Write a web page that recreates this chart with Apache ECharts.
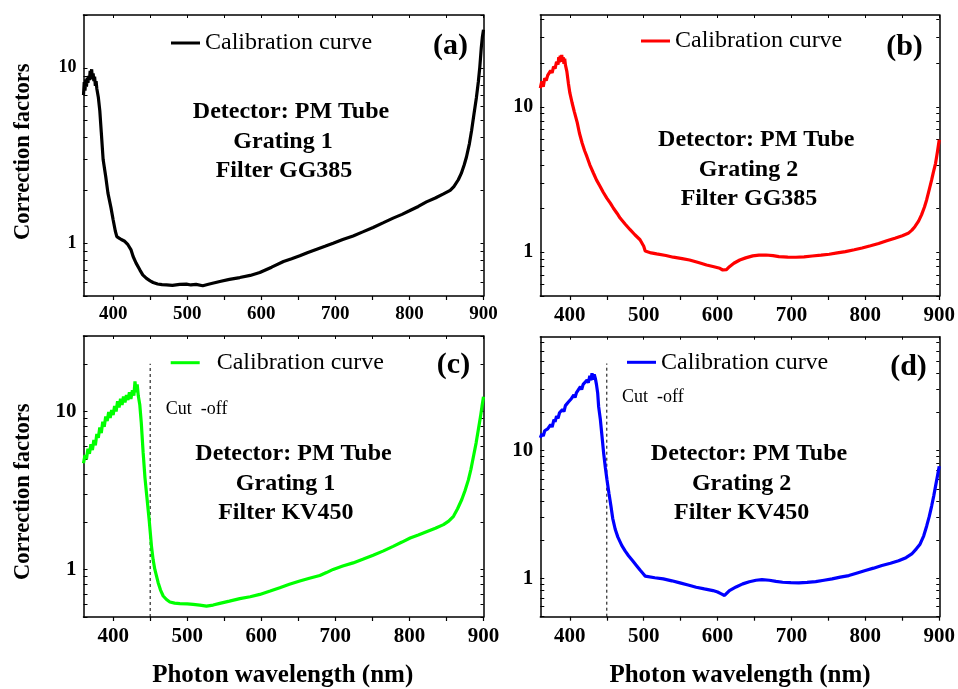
<!DOCTYPE html>
<html>
<head>
<meta charset="utf-8">
<script src="https://cdn.jsdelivr.net/npm/echarts@6/dist/echarts.min.js"></script>
<style>
html,body{margin:0;padding:0;background:#fff;}
#chart{width:958px;height:689px;}
</style>
</head>
<body>
<div id="chart"></div>
<script>
// ---- data ----
const wlA = [360,361,362,363,364,365,366,367,368,369,370,371,372,373,374,375,376,377,378,380,382,384,386.5,390,393,397,400,403,405,408,411,415,420,424,427,431,436,440,445,450,454,460,466,472,480,490,499,505,512,521,530,544,557,571,585,598,614,630,641,652,663,675,686,697,710,724,737,751,765,778,790,800,812,823,835,846,855,860,866,870,874,877,881,884,887,890.5,893,895,897,898.5,900];
const cfA = [7.0,8.3,7.4,8.6,7.8,8.8,8.2,9.0,8.5,9.6,9.2,9.8,8.6,9.3,8.4,8.9,7.9,8.4,7.6,6.8,5.7,4.3,3.0,2.4,1.93,1.6,1.36,1.17,1.09,1.07,1.05,1.03,0.98,0.92,0.84,0.77,0.705,0.66,0.63,0.61,0.597,0.585,0.58,0.579,0.575,0.582,0.584,0.578,0.582,0.572,0.585,0.605,0.622,0.637,0.655,0.68,0.73,0.786,0.815,0.847,0.885,0.924,0.96,1.0,1.05,1.1,1.16,1.23,1.31,1.39,1.46,1.53,1.62,1.72,1.81,1.91,2.0,2.1,2.3,2.5,2.8,3.1,3.7,4.4,5.4,6.8,8.3,10.1,13.0,15.0,16.5];

const wlB = [360,362,364,366,368,370,372,374,376,378,380,382,384,385,386,387,388,389,390,391,392,393,394,396,398,400,403,406,410,413,416.6,420,423,427,432,436,441,445,450,455,459,464,468,475,481.6,488,495,500,502,504,510,517.5,530,540,552,562,574,585,595,603,607,609.5,612,616,622,630,638,647.5,656,665.5,675,683,695,706,717,728,740,751,762,773,785,795.5,807,818,829,840,850,858,863,867,872,876,880,883,886,889.7,892,895,897.5,900];
const cfB = [13.5,15.0,13.8,15.8,15.2,16.5,16.0,17.8,17.2,19.0,18.4,20.5,19.6,22.0,20.3,22.6,21.0,22.8,20.5,22.0,19.8,21.5,19.5,17.5,14.6,12.5,10.7,9.3,7.8,6.6,5.65,5.0,4.57,4.0,3.5,3.15,2.84,2.6,2.36,2.17,2.01,1.85,1.72,1.56,1.43,1.32,1.22,1.1,1.02,1.0,0.99,0.974,0.95,0.925,0.905,0.885,0.85,0.818,0.795,0.776,0.755,0.735,0.76,0.796,0.84,0.885,0.915,0.944,0.955,0.958,0.948,0.933,0.925,0.924,0.93,0.943,0.955,0.969,0.99,1.01,1.04,1.07,1.11,1.15,1.2,1.25,1.3,1.35,1.42,1.5,1.64,1.81,2.05,2.3,2.65,3.15,3.55,4.1,4.9,5.95];

const wlC = [360,362,364,366,368,370,372,374,376,378,380,382,384,386,388,390,392,394,396,398,400,402,404,406,408,410,412,414,416,418,420,422,424,426,428,429.5,431,432.5,434,436,438,440.5,443,445,448.6,451.8,454,456.3,460.8,464,467.6,472,476.6,483,490,500,508,517,526,535,544,557,571,585,598,612,625,638,652,665,679,688,697,710,724,737,751,765,778,790,801,812,823,835,846,853,859.5,865,870.7,875,879.7,883,886.5,890,893,896,898,900];
const cfC = [4.7,5.3,5.0,5.8,5.4,6.2,5.7,6.6,6.1,7.2,6.8,7.9,7.3,8.6,8.0,9.3,8.7,9.9,9.1,10.2,9.5,10.8,10.0,11.6,10.6,12.0,11.0,12.4,11.4,12.7,11.8,13.2,12.0,13.6,12.6,15.5,13.2,14.8,12.5,11.0,8.5,5.5,3.8,3.05,2.07,1.4,1.15,1.0,0.824,0.74,0.679,0.645,0.622,0.612,0.607,0.605,0.601,0.595,0.586,0.595,0.61,0.63,0.653,0.672,0.695,0.73,0.766,0.805,0.844,0.88,0.916,0.955,1.0,1.05,1.1,1.16,1.23,1.31,1.4,1.49,1.58,1.65,1.73,1.82,1.92,2.02,2.17,2.42,2.77,3.15,3.7,4.3,5.2,6.3,7.66,9.3,10.8,12.4];

const wlD = [360,362,364,366,368,370,372,374,376,378.5,380,382,384,386,388,390,392,394,396.4,398,400,402,404,405.4,407,409,411,414.3,416,418,420,423.3,425,427,428.5,430,431.5,433,434.5,436,437.7,439,441.3,443.5,445.7,448,450.2,453,455.6,458,461.4,465,470.4,475,479.4,485,490.6,495,499.6,502,504,515,526.5,538,549,560,571,582,593.7,600,605,609.4,612,616,625,634,643,652,660,670,679,688,699,710,721,732.7,744,755,766,777.6,789,800,811,822.4,834,845,855,862.8,869,874,879,883,886.5,889.7,892.5,895,897.5,900];
const cfD = [12.6,13.5,13.0,14.3,13.8,14.8,14.4,16.0,15.3,17.5,16.8,18.6,17.9,19.8,19.2,21.0,20.2,22.5,22.0,24.0,23.2,25.5,24.6,27.3,26.0,28.5,27.6,31.7,30.0,33.0,32.0,35.7,34.0,38.5,35.5,40.3,36.0,39.5,36.8,33.0,28.1,22.0,17.5,13.0,9.6,7.4,5.94,4.6,3.68,2.95,2.42,2.1,1.8,1.63,1.5,1.37,1.25,1.16,1.08,1.04,1.03,1.01,0.988,0.955,0.92,0.885,0.851,0.825,0.801,0.78,0.755,0.733,0.75,0.801,0.855,0.904,0.94,0.965,0.976,0.965,0.945,0.931,0.924,0.92,0.93,0.942,0.965,0.988,1.02,1.05,1.1,1.15,1.2,1.26,1.31,1.37,1.45,1.55,1.7,1.85,2.15,2.57,3.05,3.68,4.4,5.27,6.3,7.55];

// dashed cut-off markers (wavelength, from, to)
const cutC = [[450, 0.5], [450, 20]];
const cutD = [[450, 0.5], [450, 48]];

// axis settings
const xRange = [360, 900];
const xTickValues = [400, 450, 500, 550, 600, 650, 700, 750, 800, 850, 900];
const xLabelValues = [400, 500, 600, 700, 800, 900];
const yTickAll = [0.5,0.6,0.7,0.8,0.9,1,2,3,4,5,6,7,8,9,10,20,30,40,50,60,70,80];
const yLabelValues = [1, 10];
const yMaxes = [20, 43, 30, 78];

const panelNames = ['(a)', '(b)', '(c)', '(d)'];
const colors = ['#000000', '#ff0000', '#00ff00', '#0000ff'];
const annotations = [
  ['Detector: PM Tube', 'Grating 1', 'Filter GG385'],
  ['Detector: PM Tube', 'Grating 2', 'Filter GG385'],
  ['Detector: PM Tube', 'Grating 1', 'Filter KV450'],
  ['Detector: PM Tube', 'Grating 2', 'Filter KV450']
];

// ---- layout ----
const FF = 'Liberation Serif';
const grids = [
  {left: 83.5, top: 15, width: 400, height: 281},
  {left: 540.3, top: 15, width: 400.7, height: 281},
  {left: 83.5, top: 336, width: 400, height: 281},
  {left: 540.3, top: 336.7, width: 400.7, height: 280}
];
const xLabelSize = [19, 21, 21, 21];
const yLabelSize = [18, 20, 21, 21];

const zip = (a, b) => a.map((v, i) => [v, b[i]]);
const curves = [zip(wlA, cfA), zip(wlB, cfB), zip(wlC, cfC), zip(wlD, cfD)];

const xAxes = [], yAxes = [], series = [];
grids.forEach((g, i) => {
  const yTicks = yTickAll.filter(v => v <= yMaxes[i]);
  xAxes.push({
    type: 'value', gridIndex: i, min: xRange[0], max: xRange[1], position: 'bottom',
    axisLine: {show: true, onZero: false, lineStyle: {color: '#000', width: 1.5}},
    axisTick: {show: true, inside: false, length: 4, customValues: xTickValues, lineStyle: {color: '#000', width: 1.2}},
    axisLabel: {show: true, margin: 9, customValues: xLabelValues, color: '#000', fontFamily: FF, fontWeight: 'bold', fontSize: xLabelSize[i]},
    splitLine: {show: false}
  });
  xAxes.push({
    type: 'value', gridIndex: i, min: xRange[0], max: xRange[1], position: 'top',
    axisLine: {show: true, onZero: false, lineStyle: {color: '#000', width: 1.5}},
    axisTick: {show: true, inside: true, length: 3, customValues: xTickValues, lineStyle: {color: '#000', width: 1}},
    axisLabel: {show: false},
    splitLine: {show: false}
  });
  yAxes.push({
    type: 'log', logBase: 10, gridIndex: i, min: 0.5, max: yMaxes[i], position: 'left',
    axisLine: {show: true, onZero: false, lineStyle: {color: '#000', width: 1.5}},
    axisTick: {show: true, inside: true, length: 4, customValues: yTicks, lineStyle: {color: '#000', width: 1}},
    axisLabel: {show: true, margin: 7, customValues: yLabelValues, formatter: v => String(v), color: '#000', fontFamily: FF, fontWeight: 'bold', fontSize: yLabelSize[i]},
    splitLine: {show: false}, minorTick: {show: false}
  });
  yAxes.push({
    type: 'log', logBase: 10, gridIndex: i, min: 0.5, max: yMaxes[i], position: 'right',
    axisLine: {show: true, onZero: false, lineStyle: {color: '#000', width: 1.5}},
    axisTick: {show: true, inside: true, length: 3, customValues: yTicks, lineStyle: {color: '#000', width: 1}},
    axisLabel: {show: false},
    splitLine: {show: false}, minorTick: {show: false}
  });
  series.push({
    name: 'curve' + i, type: 'line', xAxisIndex: 2 * i, yAxisIndex: 2 * i,
    data: curves[i], symbol: 'none', showSymbol: false, smooth: false,
    color: colors[i], lineStyle: {color: colors[i], width: 3.2}, clip: true, z: 3
  });
});
series.push({
  name: 'cutC', type: 'line', xAxisIndex: 4, yAxisIndex: 4, data: cutC, symbol: 'none',
  lineStyle: {color: '#000', width: 1, type: [3, 3]}, z: 2, silent: true
});
series.push({
  name: 'cutD', type: 'line', xAxisIndex: 6, yAxisIndex: 6, data: cutD, symbol: 'none',
  lineStyle: {color: '#000', width: 1, type: [3, 3]}, z: 2, silent: true
});

const legendPos = [
  {left: 171, top: 31, pre: ''},
  {left: 641, top: 29, pre: ''},
  {left: 170.7, top: 350.7, pre: '  '},
  {left: 627, top: 350.3, pre: ''}
];
const legends = legendPos.map((p, i) => ({
  data: ['curve' + i], left: p.left, top: p.top, padding: 0, icon: 'rect',
  itemWidth: 29, itemHeight: 3, selectedMode: false,
  formatter: () => p.pre + 'Calibration curve',
  textStyle: {fontFamily: FF, fontSize: 24, color: '#000'}
}));

const txt = (text, x, y, size, bold, extra) => Object.assign({
  type: 'text', x: x, y: y, silent: true,
  style: {text: text, fontFamily: FF, fontSize: size, fontWeight: bold ? 'bold' : 'normal', fill: '#000', align: 'center', verticalAlign: 'middle'}
}, extra || {});

const annPos = [
  [[291, 111.7], [283, 141.7], [284, 170.7]],
  [[756.3, 139.3], [748.5, 170], [749, 199]],
  [[293.5, 453.3], [285.5, 483.3], [285.8, 512.7]],
  [[749, 453.3], [741.6, 483.3], [741.7, 512.7]]
];
const labelPos = [[450.5, 46.5], [904.5, 47.5], [453.5, 365], [908.5, 367]];

const graphics = [];
annotations.forEach((lines, i) => {
  lines.forEach((t, j) => graphics.push(txt(t, annPos[i][j][0], annPos[i][j][1], 24, true)));
  graphics.push(txt(panelNames[i], labelPos[i][0], labelPos[i][1], 30, true));
});
graphics.push(txt('Cut  -off', 196.7, 409.3, 18, false));
graphics.push(txt('Cut  -off', 652.8, 397.3, 18, false));
graphics.push(txt('Correction factors', 23, 151.7, 22.5, true, {rotation: Math.PI / 2}));
graphics.push(txt('Correction factors', 23, 491.7, 22.5, true, {rotation: Math.PI / 2}));
graphics.push(txt('Photon wavelength (nm)', 282.7, 676, 25, true));
graphics.push(txt('Photon wavelength (nm)', 740, 676, 25, true));

const chart = echarts.init(document.getElementById('chart'), null, {renderer: 'canvas'});
chart.setOption({
  animation: false,
  backgroundColor: '#ffffff',
  grid: grids,
  xAxis: xAxes,
  yAxis: yAxes,
  legend: legends,
  series: series,
  graphic: graphics
});
</script>
</body>
</html>
